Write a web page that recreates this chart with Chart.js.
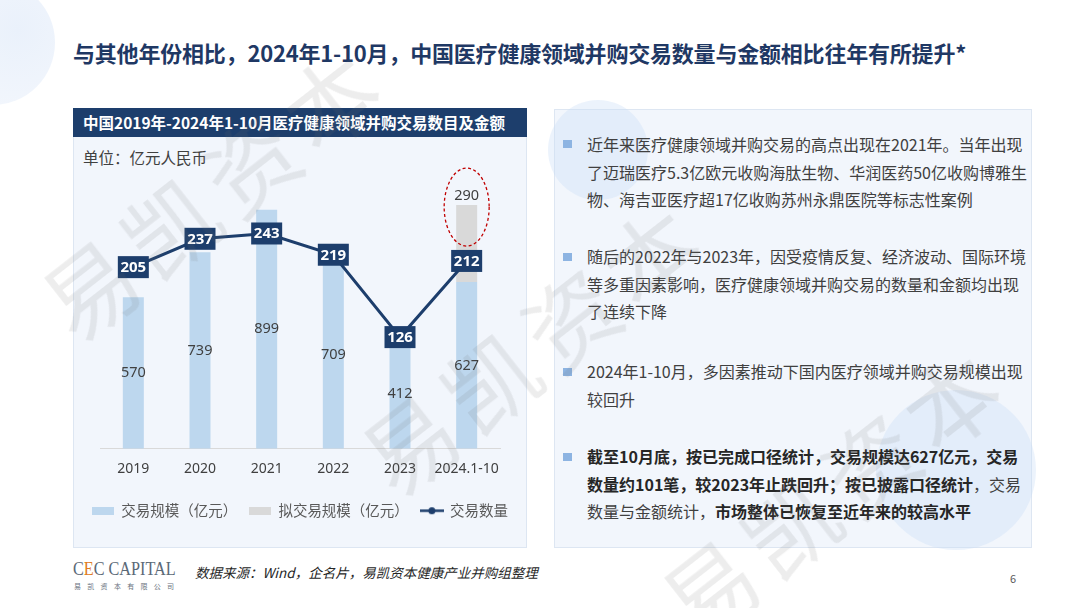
<!DOCTYPE html>
<html>
<head>
<meta charset="utf-8">
<script src="https://cdn.jsdelivr.net/npm/chart.js@4.4.1/dist/chart.umd.min.js"></script>
<style>
  html, body { margin: 0; padding: 0; }
  body {
    width: 1080px; height: 608px; position: relative; overflow: hidden;
    background: #fff; font-family: "Noto Sans CJK SC", "Noto Sans", sans-serif;
  }
  .abs { position: absolute; }
  .title {
    left: 73px; top: 35px; font-size: 22px; font-weight: bold; color: #1f3864;
    line-height: 34px; white-space: nowrap; letter-spacing: -0.2px;
  }
  .panel { background: #f2f6fc; border: 1px solid #dde6f2; box-sizing: border-box; }
  .head {
    left: 73px; top: 108px; width: 454px; height: 29px; background: #1d3e6c;
    color: #fff; font-weight: bold; font-size: 15.5px; line-height: 29px; padding-left: 10px; box-sizing: border-box;
    white-space: nowrap;
  }
  .unit { left: 83px; top: 145px; font-size: 15.5px; color: #404040; line-height: 24px; }
  .para { left: 587px; font-size: 16px; line-height: 27.7px; color: #404040; white-space: nowrap; }
  .para b { color: #262626; }
  .bullet { left: 563px; width: 9px; height: 8px; background: #8db4e2; }
  .circle { border-radius: 50%; }
  .wm {
    font-size: 92px; color: rgba(110,110,110,0.12); white-space: nowrap; letter-spacing: 10px;
    transform: translate(-50%, -50%) rotate(-38deg); pointer-events: none;
  }
  .source { left: 195px; top: 562px; font-size: 13.5px; font-style: italic; color: #262626; white-space: nowrap; }
  .logo {
    left: 73px; top: 558px; font-family: "Liberation Serif", "DejaVu Serif", serif; font-size: 18px;
    color: #5b6977; white-space: nowrap; line-height: 22px; transform: scaleX(0.9); transform-origin: left top;
  }
  .logo span { color: #e07b22; }
  .logosub { left: 74px; top: 581px; font-size: 7px; color: #6a7480; letter-spacing: 6.3px; white-space: nowrap; }
  .page { left: 1010px; top: 570px; font-size: 11px; color: #595959; }
</style>
</head>
<body>
<div class="abs circle" style="left:-70px; top:-20px; width:125px; height:125px; background: radial-gradient(circle at 70% 40%, #eaf1fb, #f5f8fd);"></div>

<div class="abs title">与其他年份相比，2024年1-10月，中国医疗健康领域并购交易数量与金额相比往年有所提升*</div>

<div class="abs panel" style="left:73px; top:108px; width:454px; height:440px;"></div>
<div class="abs head">中国2019年-2024年1-10月医疗健康领域并购交易数目及金额</div>
<div class="abs unit">单位：亿元人民币</div>
<div class="abs" style="left:73px; top:137px; width:454px; height:411px;">
  <canvas id="dealChart"></canvas>
</div>

<div class="abs panel" style="left:554px; top:109px; width:478px; height:439px;"></div>
<div class="abs circle" style="left:548px; top:100px; width:100px; height:100px; background: rgba(200,220,245,0.35);"></div>
<div class="abs circle" style="left:876px; top:390px; width:160px; height:160px; background: rgba(200,220,245,0.35);"></div>

<div class="abs bullet" style="top:140px;"></div>
<div class="abs para" style="top:131px;">近年来医疗健康领域并购交易的高点出现在2021年。当年出现<br>了迈瑞医疗5.3亿欧元收购海肽生物、华润医药50亿收购博雅生<br>物、海吉亚医疗超17亿收购苏州永鼎医院等标志性案例</div>

<div class="abs bullet" style="top:253px;"></div>
<div class="abs para" style="top:243px;">随后的2022年与2023年，因受疫情反复、经济波动、国际环境<br>等多重因素影响，医疗健康领域并购交易的数量和金额均出现<br>了连续下降</div>

<div class="abs bullet" style="top:368px;"></div>
<div class="abs para" style="top:358px;">2024年1-10月，多因素推动下国内医疗领域并购交易规模出现<br>较回升</div>

<div class="abs bullet" style="top:453px;"></div>
<div class="abs para" style="top:443px;"><b>截至10月底，按已完成口径统计，交易规模达627亿元，交易</b><br><b>数量约101笔，较2023年止跌回升；按已披露口径统计</b>，交易<br>数量与金额统计，<b>市场整体已恢复至近年来的较高水平</b></div>

<div class="abs logo">C<span>E</span>C CAPITAL</div>
<div class="abs logosub">易凯资本有限公司</div>
<div class="abs source">数据来源：Wind，企名片，易凯资本健康产业并购组整理</div>
<div class="abs page">6</div>

<div class="abs wm" style="left:212px; top:189px;">易凯资本</div>
<div class="abs wm" style="left:532px; top:344px;">易凯资本</div>
<div class="abs wm" style="left:832px; top:489px;">易凯资本</div>

<script>
// 数据
const categories = ['2019', '2020', '2021', '2022', '2023', '2024.1-10'];
const dealValue = [570, 739, 899, 709, 412, 627];      // 交易规模（亿元）
const plannedValue = [null, null, null, null, null, 290]; // 拟交易规模（亿元）
const dealCount = [205, 237, 243, 219, 126, 212];       // 交易数量

const navy = '#1d3e6c';
const blue = '#bdd7ee';
const gray = '#d9d9d9';

// legend icons
function makeIcon(w, h, draw) {
  const c = document.createElement('canvas');
  c.width = w; c.height = h;
  draw(c.getContext('2d'));
  return c;
}
const legendIcons = [
  makeIcon(22, 8, ctx => { ctx.fillStyle = blue; ctx.fillRect(0, 0, 22, 8); }),
  makeIcon(22, 8, ctx => { ctx.fillStyle = gray; ctx.fillRect(0, 0, 22, 8); }),
  makeIcon(24, 9, ctx => {
    ctx.strokeStyle = navy; ctx.lineWidth = 2.5;
    ctx.beginPath(); ctx.moveTo(0, 4.5); ctx.lineTo(24, 4.5); ctx.stroke();
    ctx.fillStyle = navy; ctx.beginPath(); ctx.arc(12, 4.5, 3.5, 0, Math.PI * 2); ctx.fill();
  })
];

// 数值标签 + 红色虚线圈
const labelPlugin = {
  id: 'labelPlugin',
  afterDatasetsDraw(chart) {
    const ctx = chart.ctx;
    ctx.save();
    ctx.textAlign = 'center';
    ctx.textBaseline = 'middle';

    ctx.font = '14.5px "Noto Sans", sans-serif';
    ctx.fillStyle = '#404040';
    chart.getDatasetMeta(0).data.forEach((bar, i) => {
      ctx.fillText(dealValue[i], bar.x, (bar.y + bar.base) / 2);
    });
    chart.getDatasetMeta(1).data.forEach((bar, i) => {
      if (plannedValue[i] == null) return;
      ctx.fillText(plannedValue[i], bar.x, bar.y - 9);
      // dashed ellipse
      ctx.strokeStyle = '#c00000';
      ctx.lineWidth = 1.3;
      ctx.setLineDash([3, 2.5]);
      ctx.beginPath();
      ctx.ellipse(bar.x, bar.y + 2, 22.5, 39, 0, 0, Math.PI * 2);
      ctx.stroke();
      ctx.setLineDash([]);
    });

    ctx.font = 'bold 15px "Noto Sans", sans-serif';
    chart.getDatasetMeta(2).data.forEach((pt, i) => {
      ctx.fillStyle = navy;
      ctx.fillRect(pt.x - 15.5, pt.y - 11, 31, 22);
      ctx.fillStyle = '#fff';
      ctx.fillText(dealCount[i], pt.x, pt.y + 0.5);
    });
    ctx.restore();
  }
};

// hidden side axes that only reserve width
const sideAxis = (w) => ({
  grid: { display: false, drawTicks: false },
  border: { display: false },
  ticks: { display: false },
  afterFit(scale) { scale.width = w; }
});

new Chart(document.getElementById('dealChart'), {
  type: 'bar',
  data: {
    labels: categories,
    datasets: [
      {
        label: '交易规模（亿元）',
        data: dealValue,
        backgroundColor: blue,
        barPercentage: 0.315,
        categoryPercentage: 1,
        yAxisID: 'y',
        order: 1
      },
      {
        label: '拟交易规模（亿元）',
        data: plannedValue,
        backgroundColor: gray,
        barPercentage: 0.315,
        categoryPercentage: 1,
        yAxisID: 'y',
        order: 1
      },
      {
        type: 'line',
        label: '交易数量',
        data: dealCount,
        borderColor: navy,
        backgroundColor: navy,
        borderWidth: 3,
        pointRadius: 0,
        tension: 0,
        yAxisID: 'y1',
        order: 0
      }
    ]
  },
  options: {
    responsive: true,
    maintainAspectRatio: false,
    animation: false,
    layout: { padding: { left: 0, right: 0, top: 46, bottom: 20 } },
    scales: {
      x: {
        stacked: true,
        grid: { display: false, drawTicks: false },
        border: { color: '#d9d9d9', width: 1 },
        ticks: {
          color: '#404040', font: { size: 14, family: '"Noto Sans", sans-serif' },
          padding: 12, maxRotation: 0, autoSkip: false
        },
        afterFit(scale) { scale.height += 2; }
      },
      y: Object.assign({ stacked: true, min: 0, max: 1000, position: 'left' }, sideAxis(27)),
      y1: Object.assign({ stacked: false, min: 0, max: 300, position: 'right' }, sideAxis(27))
    },
    plugins: {
      legend: {
        position: 'bottom',
        labels: {
          usePointStyle: true,
          pointStyleWidth: 22,
          boxHeight: 8,
          padding: 12,
          color: '#595959',
          font: { size: 14.5, family: '"Noto Sans CJK SC", sans-serif' },
          sort: (a, b) => a.datasetIndex - b.datasetIndex,
          generateLabels(chart) {
            const items = Chart.defaults.plugins.legend.labels.generateLabels(chart);
            items.forEach(it => { it.pointStyle = legendIcons[it.datasetIndex]; });
            return items;
          }
        }
      },
      tooltip: { enabled: false }
    }
  },
  plugins: [labelPlugin]
});
</script>
</body>
</html>
